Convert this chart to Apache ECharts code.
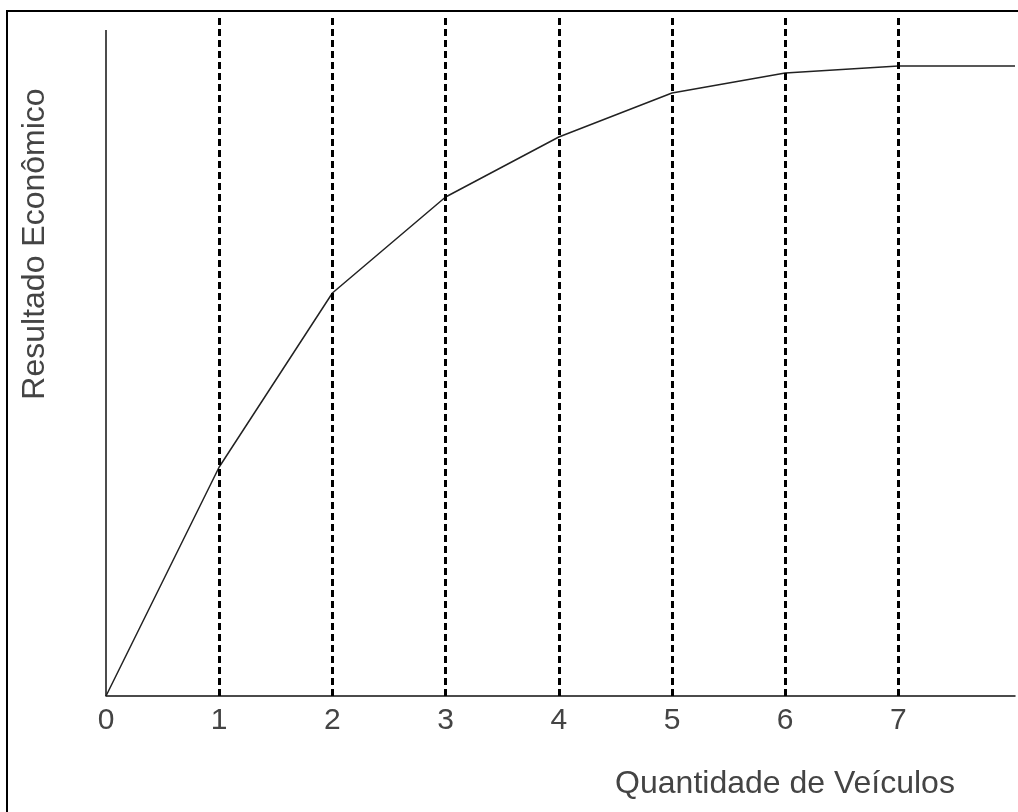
<!DOCTYPE html>
<html>
<head>
<meta charset="utf-8">
<script src="https://cdn.jsdelivr.net/npm/echarts@6/dist/echarts.min.js"></script>
<style>html,body{margin:0;padding:0;background:#fff}#c{width:1018px;height:812px}</style>
</head>
<body>
<div id="c"></div>
<script>
var xValues = [0, 1, 2, 3, 4, 5, 6, 7, 8.03];
var yValues = [0, 229, 403, 499, 559, 603, 623, 630, 630];
var tickLabels = ['0', '1', '2', '3', '4', '5', '6', '7'];
var dashedAt = [1, 2, 3, 4, 5, 6, 7];
var yAxisTop = 666;
var xTitle = 'Quantidade de Veículos';
var yTitle = 'Resultado Econômico';

var chart = echarts.init(document.getElementById('c'));
var font = '"Liberation Sans", Arial, sans-serif';
var curve = xValues.map(function (x, i) { return [x, yValues[i]]; });

chart.setOption({
  animation: false,
  backgroundColor: '#fff',
  grid: { left: 106, right: 3, top: 15, bottom: 116 },
  xAxis: {
    type: 'value', min: 0, max: 8.03, interval: 1,
    axisLine: { show: true, lineStyle: { color: '#111', width: 1.5 } },
    axisTick: { show: false },
    splitLine: { show: false },
    axisLabel: {
      margin: 10, fontSize: 30, fontFamily: font, color: '#444',
      formatter: function (v) { return tickLabels[v] !== undefined && v === Math.round(v) ? tickLabels[v] : ''; }
    }
  },
  yAxis: {
    type: 'value', min: 0, max: 681,
    axisLine: { show: false }, axisTick: { show: false },
    axisLabel: { show: false }, splitLine: { show: false }
  },
  series: [
    {
      name: 'eixo', type: 'line', data: [[0, 0], [0, yAxisTop]],
      symbol: 'none', lineStyle: { color: '#111', width: 1.5 }, silent: true
    },
    {
      name: 'guias', type: 'line', data: [],
      markLine: {
        silent: true, symbol: 'none', label: { show: false },
        lineStyle: { color: '#000', width: 3, type: [7, 4] },
        data: dashedAt.map(function (v) { return { xAxis: v }; })
      }
    },
    {
      name: 'Resultado', type: 'line', data: curve,
      symbol: 'none', lineStyle: { color: '#222', width: 1.5 }
    }
  ],
  graphic: [
    {
      type: 'rect', shape: { x: 7, y: 11, width: 1030, height: 830 },
      style: { fill: 'none', stroke: '#000', lineWidth: 2 }, silent: true
    },
    {
      type: 'text', x: 785, y: 784,
      style: { text: xTitle, font: '32px ' + font, fill: '#444', textAlign: 'center', textVerticalAlign: 'middle' }
    },
    {
      type: 'text', x: 35, y: 244, rotation: Math.PI / 2,
      style: { text: yTitle, font: '32px ' + font, fill: '#444', textAlign: 'center', textVerticalAlign: 'middle' }
    }
  ]
});
</script>
</body>
</html>
